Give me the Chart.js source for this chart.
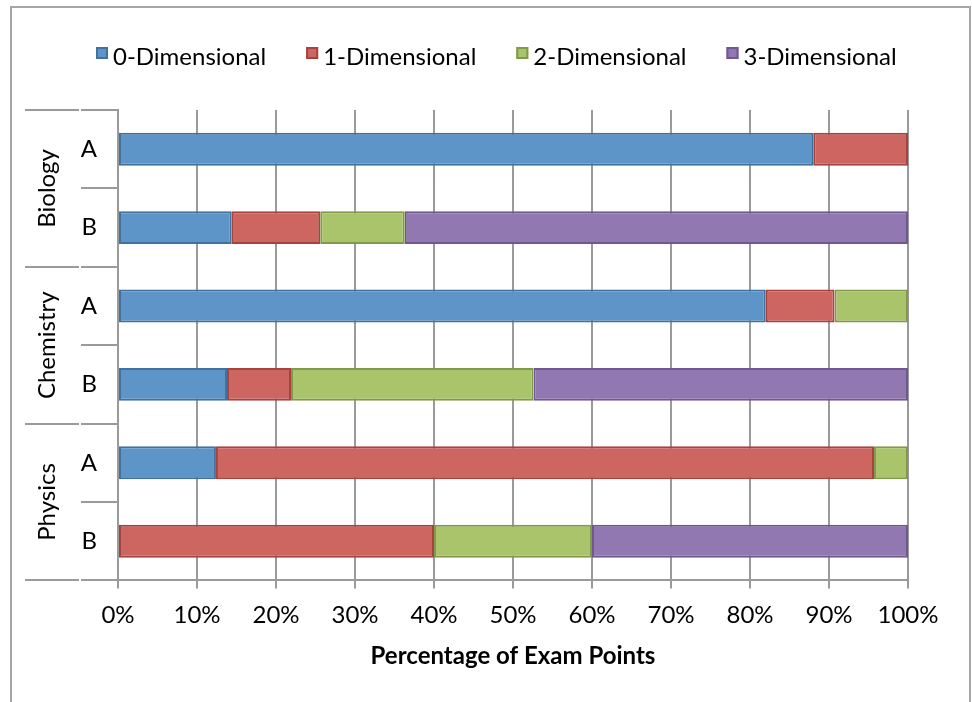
<!DOCTYPE html>
<html>
<head>
<meta charset="utf-8">
<script src="https://cdn.jsdelivr.net/npm/chart.js@4.4.1/dist/chart.umd.min.js"></script>
<style>
  html, body { margin: 0; padding: 0; background: #fff; }
  #wrap { position: relative; width: 972px; height: 702px; overflow: hidden; }
  #chart { position: absolute; left: 0; top: 0; }
  #frame { position: absolute; left: 10px; top: 6px; width: 961px; height: 720px; border: 2px solid #a6a6a6; box-sizing: border-box; pointer-events: none; }
</style>
</head>
<body>
<div id="wrap">
  <canvas id="chart" width="972" height="702"></canvas>
  <div id="frame"></div>
</div>
<script>
// subjects and exam forms (two rows per subject)
const groups = ['Biology', 'Chemistry', 'Physics']
const forms = ['A', 'B']
const categories = groups.flatMap(g => forms.map(f => g + ' ' + f))

// percentage of exam points per row
const zeroD  = [88.0, 14.4, 82.0, 13.8, 12.4, null]
const oneD   = [12.0, 11.2,  8.7,  8.1, 83.3, 40.0]
const twoD   = [null, 10.7,  9.3, 30.7,  4.3, 20.0]
const threeD = [null, 63.7, null, 47.4, null, 40.0]

const seriesNames = ['0-Dimensional', '1-Dimensional', '2-Dimensional', '3-Dimensional']
const xTicks = [0, 10, 20, 30, 40, 50, 60, 70, 80, 90, 100]

const fills = ['#5e95c8', '#cd6560', '#aac46c', '#9278b0']
const edges = ['#41719f', '#a5433f', '#81994a', '#6f5891']

const FONT = 'Lato, "Open Sans", sans-serif'
const SIZE = 24
const gridGrey = '#9a9a9a'

Chart.defaults.color = '#000'
Chart.defaults.font.family = FONT
Chart.defaults.font.size = SIZE

// two-level category axis: subject names and separators
const groupAxis = {
  id: 'groupAxis',
  afterDraw(chart) {
    const {ctx, chartArea, scales: {y}} = chart
    const step = y.getPixelForValue(1) - y.getPixelForValue(0)
    ctx.save()
    ctx.strokeStyle = gridGrey
    ctx.lineWidth = 2
    for (let i = 0; i <= categories.length; i++) {
      const yy = Math.round(y.getPixelForValue(0) + step * (i - 0.5))
      ctx.beginPath()
      if (i % forms.length === 0) {
        ctx.moveTo(25, yy); ctx.lineTo(79, yy)
      }
      ctx.moveTo(81, yy); ctx.lineTo(chartArea.left, yy)
      ctx.stroke()
    }
    ctx.fillStyle = '#000'
    ctx.font = SIZE + 'px ' + FONT
    ctx.textAlign = 'center'
    ctx.textBaseline = 'middle'
    groups.forEach((g, gi) => {
      const a = y.getPixelForValue(gi * forms.length)
      const b = y.getPixelForValue(gi * forms.length + forms.length - 1)
      ctx.save()
      ctx.translate(47, (a + b) / 2)
      ctx.rotate(-Math.PI / 2)
      ctx.fillText(g, 0, 0)
      ctx.restore()
    })
    ctx.restore()
  }
}

// legend row above the plot, Excel style (small square, tight gap)
const legendRow = {
  id: 'legendRow',
  afterDraw(chart) {
    const ctx = chart.ctx
    const box = 12, gap = 5, spacing = 40
    ctx.save()
    ctx.font = SIZE + 'px ' + FONT
    const widths = seriesNames.map(n => ctx.measureText(n).width)
    const total = widths.reduce((a, w) => a + box + gap + w, 0) + spacing * (seriesNames.length - 1)
    let x = Math.round(496 - total / 2)
    ctx.textBaseline = 'middle'
    ctx.textAlign = 'left'
    ctx.lineWidth = 2
    seriesNames.forEach((n, i) => {
      ctx.fillStyle = fills[i]
      ctx.strokeStyle = edges[i]
      ctx.fillRect(x, 47, box, box)
      ctx.strokeRect(x + 1, 48, box - 2, box - 2)
      ctx.fillStyle = '#000'
      ctx.fillText(n, x + box + gap, 57)
      x += box + gap + widths[i] + spacing
    })
    ctx.restore()
  }
}

const allSeries = [zeroD, oneD, twoD, threeD]

new Chart(document.getElementById('chart'), {
  type: 'bar',
  data: {
    labels: categories,
    datasets: allSeries.map((d, i) => ({
      label: seriesNames[i],
      data: d,
      backgroundColor: fills[i],
      borderColor: edges[i],
      borderWidth: 2,
      borderSkipped: false,
      categoryPercentage: 1,
      barPercentage: 0.42
    }))
  },
  options: {
    indexAxis: 'y',
    responsive: false,
    animation: false,
    layout: { padding: { left: 0, right: 64, top: 110, bottom: 31 } },
    plugins: {
      legend: { display: false },
      tooltip: { enabled: false }
    },
    scales: {
      x: {
        stacked: true,
        min: 0,
        max: 100,
        afterBuildTicks: s => { s.ticks = xTicks.map(v => ({ value: v })) },
        ticks: { callback: v => v + '%', padding: 12, maxRotation: 0 },
        grid: { color: gridGrey, lineWidth: 2, tickLength: 8 },
        border: { color: gridGrey, width: 2 },
        title: {
          display: true,
          text: 'Percentage of Exam Points',
          font: { size: SIZE, weight: 'bold' },
          padding: { top: 1, bottom: 0 }
        }
      },
      y: {
        stacked: true,
        afterFit: s => { s.width = 118 },
        ticks: { callback: (v, i) => forms[i % forms.length], padding: 21 },
        grid: { drawOnChartArea: false, drawTicks: false },
        border: { color: gridGrey, width: 2 }
      }
    }
  },
  plugins: [groupAxis, legendRow]
})
</script>
</body>
</html>
